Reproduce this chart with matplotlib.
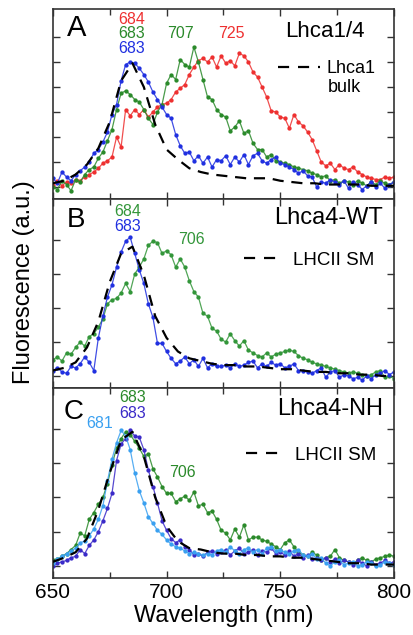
import matplotlib
matplotlib.use("Agg")
import matplotlib.pyplot as plt
import numpy as np
from matplotlib.lines import Line2D

plt.rcParams["font.family"] = ["Liberation Sans", "DejaVu Sans"]

# wavelength grid of the single-molecule spectra (nm)
wl = np.arange(650, 801, 2)
# smoother bulk / reference spectra
wl_ref = np.arange(650, 801, 5)

# ---- panel A: Lhca1/4 ----
a_blue = [0.07, 0.03, 0.12, 0.08, 0.05, 0.10, 0.13, 0.16, 0.20, 0.27, 0.30, 0.36, 0.44, 0.58,
          0.66, 0.85, 0.98, 1.00, 0.99, 0.95, 0.90, 0.84, 0.76, 0.70, 0.64, 0.58, 0.55, 0.42,
          0.33, 0.27, 0.28, 0.21, 0.25, 0.19, 0.24, 0.16, 0.22, 0.21, 0.25, 0.18, 0.24, 0.20,
          0.26, 0.18, 0.25, 0.27, 0.21, 0.19, 0.22, 0.24, 0.19, 0.18, 0.16, 0.14, 0.11, 0.13,
          0.09, 0.08, 0.00, 0.04, 0.03, 0.06, 0.04, 0.02, 0.05, -0.01, 0.04, 0.02, -0.02, 0.01,
          0.04, 0.00, 0.03, -0.01, 0.02, 0.04]
a_green = [0.00, -0.02, 0.05, 0.02, -0.03, 0.06, 0.04, 0.10, 0.14, 0.16, 0.23, 0.28, 0.37, 0.46,
           0.62, 0.75, 0.77, 0.74, 0.70, 0.68, 0.62, 0.55, 0.50, 0.60, 0.66, 0.83, 0.90, 0.86,
           1.02, 0.98, 0.96, 1.12, 1.00, 0.86, 0.72, 0.70, 0.62, 0.58, 0.56, 0.45, 0.48, 0.53,
           0.43, 0.45, 0.35, 0.30, 0.30, 0.24, 0.26, 0.21, 0.20, 0.19, 0.18, 0.16, 0.15, 0.14,
           0.13, 0.11, 0.10, 0.08, 0.09, 0.05, 0.06, 0.03, 0.05, 0.04, 0.02, 0.05, 0.03, 0.01,
           0.04, 0.02, 0.05, 0.03, 0.02, 0.04]
a_red = [0.02, 0.05, 0.01, 0.04, 0.03, 0.06, 0.05, 0.08, 0.10, 0.12, 0.15, 0.19, 0.21, 0.24,
         0.40, 0.32, 0.62, 0.57, 0.62, 0.58, 0.62, 0.56, 0.60, 0.64, 0.66, 0.67, 0.70, 0.76,
         0.79, 0.82, 0.90, 0.96, 1.01, 1.03, 1.00, 1.04, 0.96, 1.05, 0.99, 1.01, 0.97, 1.07,
         1.05, 1.00, 0.92, 0.88, 0.80, 0.72, 0.61, 0.60, 0.56, 0.55, 0.47, 0.58, 0.52, 0.49,
         0.44, 0.38, 0.29, 0.20, 0.17, 0.19, 0.14, 0.18, 0.15, 0.14, 0.16, 0.12, 0.10, 0.08,
         0.07, 0.06, 0.06, 0.08, 0.07, 0.08]
a_bulk = [0.03, 0.05, 0.10, 0.18, 0.31, 0.52, 0.85, 0.99, 0.80, 0.50, 0.30, 0.22, 0.15, 0.12,
          0.10, 0.09, 0.08, 0.07, 0.07, 0.07, 0.05, 0.04, 0.03, 0.03, 0.02, 0.02, 0.02, 0.02,
          0.01, 0.01, 0.01]

# ---- panel B: Lhca4-WT ----
b_blue = [0.04, 0.06, 0.03, 0.02, 0.07, 0.06, 0.09, 0.14, 0.10, 0.04, 0.28, 0.44, 0.58, 0.67,
          0.80, 0.91, 0.99, 1.02, 0.90, 0.78, 0.68, 0.53, 0.43, 0.24, 0.24, 0.18, 0.13, 0.09,
          0.11, 0.14, 0.09, 0.12, 0.07, 0.13, 0.06, 0.09, 0.07, 0.07, 0.08, 0.06, 0.09, 0.07,
          0.08, 0.10, 0.11, 0.06, 0.09, 0.07, 0.10, 0.08, 0.09, 0.06, 0.07, 0.09, 0.04, 0.04,
          0.03, 0.02, 0.04, 0.06, -0.01, 0.03, 0.04, -0.01, 0.01, 0.00, -0.02, -0.01, -0.03, 0.00,
          -0.02, 0.01, 0.02, 0.04, 0.01, 0.03]
b_green = [0.12, 0.14, 0.11, 0.17, 0.16, 0.21, 0.25, 0.22, 0.29, 0.31, 0.36, 0.42, 0.53, 0.56,
           0.57, 0.61, 0.68, 0.62, 0.75, 0.80, 0.86, 0.96, 0.99, 0.98, 0.90, 0.92, 0.89, 0.80,
           0.86, 0.80, 0.70, 0.62, 0.58, 0.46, 0.44, 0.35, 0.33, 0.27, 0.25, 0.31, 0.26, 0.22,
           0.26, 0.19, 0.17, 0.15, 0.14, 0.17, 0.14, 0.16, 0.17, 0.18, 0.19, 0.18, 0.15, 0.13,
           0.12, 0.10, 0.09, 0.08, 0.07, 0.06, 0.05, 0.04, 0.03, 0.02, 0.03, 0.02, 0.01, 0.00,
           0.01, 0.03, 0.04, -0.01, 0.00, -0.02]
b_ref = [0.04, 0.06, 0.10, 0.21, 0.40, 0.69, 0.90, 0.95, 0.74, 0.44, 0.28, 0.18, 0.13, 0.11,
         0.09, 0.08, 0.08, 0.07, 0.07, 0.06, 0.05, 0.05, 0.04, 0.03, 0.03, 0.02, 0.02, 0.01,
         0.01, 0.00, 0.00]

# ---- panel C: Lhca4-NH ----
c_green = [0.04, 0.05, 0.07, 0.09, 0.12, 0.15, 0.24, 0.22, 0.34, 0.39, 0.45, 0.50, 0.60, 0.74,
           0.86, 0.93, 0.98, 0.96, 0.91, 0.86, 0.80, 0.82, 0.71, 0.65, 0.58, 0.53, 0.53, 0.47,
           0.49, 0.51, 0.48, 0.54, 0.44, 0.45, 0.39, 0.40, 0.34, 0.26, 0.24, 0.19, 0.27, 0.21,
           0.30, 0.19, 0.21, 0.21, 0.19, 0.18, 0.16, 0.14, 0.12, 0.17, 0.19, 0.14, 0.10, 0.08,
           0.07, 0.10, 0.08, 0.04, 0.06, 0.07, 0.12, 0.06, 0.04, 0.03, 0.02, 0.04, 0.06, 0.04,
           0.03, 0.05, 0.06, 0.07, 0.08, 0.07]
c_blue = [0.00, 0.02, 0.03, 0.04, 0.06, 0.07, 0.12, 0.09, 0.15, 0.19, 0.25, 0.33, 0.42, 0.53,
          0.77, 0.89, 0.93, 0.99, 0.95, 0.94, 0.85, 0.70, 0.58, 0.46, 0.33, 0.26, 0.20, 0.17,
          0.19, 0.14, 0.12, 0.08, 0.09, 0.07, 0.10, 0.11, 0.09, 0.10, 0.12, 0.08, 0.11, 0.13,
          0.09, 0.10, 0.12, 0.08, 0.11, 0.10, 0.13, 0.09, 0.10, 0.08, 0.11, 0.07, 0.09, 0.06,
          0.08, 0.05, 0.06, 0.04, 0.06, 0.03, 0.05, 0.02, 0.04, 0.03, 0.01, 0.04, 0.02, 0.00,
          0.03, 0.01, 0.02, 0.04, 0.02, 0.03]
c_light = [0.02, 0.05, 0.07, 0.09, 0.11, 0.13, 0.17, 0.18, 0.22, 0.27, 0.34, 0.44, 0.62, 0.78,
           0.90, 0.99, 0.95, 0.85, 0.68, 0.55, 0.46, 0.36, 0.31, 0.26, 0.23, 0.19, 0.16, 0.14,
           0.13, 0.11, 0.09, 0.10, 0.09, 0.08, 0.09, 0.08, 0.11, 0.12, 0.10, 0.14, 0.11, 0.09,
           0.12, 0.13, 0.10, 0.12, 0.09, 0.13, 0.14, 0.11, 0.12, 0.10, 0.09, 0.11, 0.12, 0.08,
           0.07, 0.09, 0.05, 0.06, 0.02, 0.00, 0.03, 0.04, 0.01, 0.02, 0.03, 0.00, 0.01, 0.03,
           0.02, 0.00, 0.01, 0.03, 0.02, 0.01]
c_ref = [0.03, 0.06, 0.10, 0.20, 0.41, 0.68, 0.92, 0.98, 0.80, 0.50, 0.29, 0.18, 0.13, 0.12,
         0.10, 0.09, 0.09, 0.08, 0.08, 0.07, 0.07, 0.06, 0.06, 0.05, 0.04, 0.03, 0.02, 0.02,
         0.01, 0.01, 0.01]

RED = "#ee3030"
GREEN = "#2b8a2b"
GREEN_B = "#33963a"
BLUE = "#2030e0"
LIGHT = "#3aa0f0"
VIOLET = "#3a2ac8"


def spectrum(ax, y, color, z=2):
    ax.plot(wl, y, "-", color=color, lw=0.9, alpha=0.85, zorder=z)
    ax.plot(wl, y, "o", color=color, ms=3.1, mew=0, zorder=z)


def reference(ax, y):
    ax.plot(wl_ref, y, color="black", lw=1.6, dashes=(5, 3.5), zorder=5)
    return Line2D([], [], color="black", lw=1.6, dashes=(5, 4))


def style(ax, ylim, yticks, show_x):
    ax.set_xlim(650, 800)
    ax.set_ylim(*ylim)
    ax.set_xticks([650, 700, 750, 800])
    ax.set_xticks([675, 725, 775], minor=True)
    ax.set_yticks(yticks)
    ax.set_yticklabels([])
    ax.tick_params(which="both", direction="in", top=True, right=True,
                   width=1, color="#333333", labelsize=15)
    ax.tick_params(which="major", length=5)
    ax.tick_params(which="minor", length=4)
    if not show_x:
        ax.set_xticklabels([])
    for s in ax.spines.values():
        s.set_linewidth(1.2)
        s.set_color("#333333")


def peak(ax, x, y, txt, color):
    ax.text(x, y, txt, color=color, fontsize=11.5, ha="center", va="center")


fig = plt.figure(figsize=(4.13, 6.35), dpi=100)
L, W = 0.128, 0.826
ax_a = fig.add_axes([L, 0.6866, W, 0.2992])
ax_b = fig.add_axes([L, 0.389, W, 0.2976])
ax_c = fig.add_axes([L, 0.0898, W, 0.2992])

# panel A
spectrum(ax_a, a_red, RED)
spectrum(ax_a, a_green, GREEN)
spectrum(ax_a, a_blue, BLUE)
h = reference(ax_a, a_bulk)
style(ax_a, (-0.096, 1.424), np.arange(0, 1.21, 0.2), False)
ax_a.legend([h], ["Lhca1"], loc="center left", bbox_to_anchor=(0.66, 0.685),
            frameon=False, fontsize=13, handlelength=2.3, handletextpad=0.4,
            borderpad=0, borderaxespad=0)
ax_a.text(0.805, 0.585, "bulk", transform=ax_a.transAxes, fontsize=13,
          ha="left", va="center")
ax_a.text(0.07, 0.9, "A", transform=ax_a.transAxes, fontsize=21, ha="center", va="center")
ax_a.text(0.915, 0.88, "Lhca1/4", transform=ax_a.transAxes, fontsize=16, ha="right", va="center")
peak(ax_a, 684.8, 1.34, "684", RED)
peak(ax_a, 684.8, 1.232, "683", GREEN)
peak(ax_a, 684.8, 1.11, "683", BLUE)
peak(ax_a, 706, 1.232, "707", GREEN)
peak(ax_a, 728.7, 1.232, "725", RED)

# panel B
spectrum(ax_b, b_green, GREEN_B)
spectrum(ax_b, b_blue, BLUE)
h = reference(ax_b, b_ref)
style(ax_b, (-0.088, 1.30), [0, 0.25, 0.5, 0.75, 1.0], False)
ax_b.legend([h], ["LHCII SM"], loc="center left", bbox_to_anchor=(0.56, 0.677),
            frameon=False, fontsize=13.5, handlelength=2.0, handletextpad=0.6,
            borderpad=0, borderaxespad=0)
ax_b.text(0.067, 0.889, "B", transform=ax_b.transAxes, fontsize=20, ha="center", va="center")
ax_b.text(0.968, 0.90, "Lhca4-WT", transform=ax_b.transAxes, fontsize=17, ha="right", va="center")
peak(ax_b, 683, 1.21, "684", GREEN_B)
peak(ax_b, 683, 1.10, "683", BLUE)
peak(ax_b, 711, 1.0, "706", GREEN_B)

# panel C
spectrum(ax_c, c_green, GREEN)
spectrum(ax_c, c_blue, VIOLET)
spectrum(ax_c, c_light, LIGHT)
h = reference(ax_c, c_ref)
style(ax_c, (-0.088, 1.30), [0, 0.25, 0.5, 0.75, 1.0], True)
ax_c.legend([h], ["LHCII SM"], loc="center left", bbox_to_anchor=(0.566, 0.647),
            frameon=False, fontsize=13.5, handlelength=2.0, handletextpad=0.6,
            borderpad=0, borderaxespad=0)
ax_c.text(0.06, 0.874, "C", transform=ax_c.transAxes, fontsize=20, ha="center", va="center")
ax_c.text(0.968, 0.89, "Lhca4-NH", transform=ax_c.transAxes, fontsize=17, ha="right", va="center")
peak(ax_c, 685, 1.23, "683", GREEN)
peak(ax_c, 685, 1.115, "683", VIOLET)
peak(ax_c, 670.7, 1.044, "681", LIGHT)
peak(ax_c, 707, 0.686, "706", GREEN)
ax_c.set_xlabel("Wavelength (nm)", fontsize=17, labelpad=2)

fig.text(0.058, 0.556, "Fluorescence (a.u.)", rotation=90, fontsize=17,
         ha="center", va="center")

fig.savefig("out.png", dpi=100)
plt.close(fig)
